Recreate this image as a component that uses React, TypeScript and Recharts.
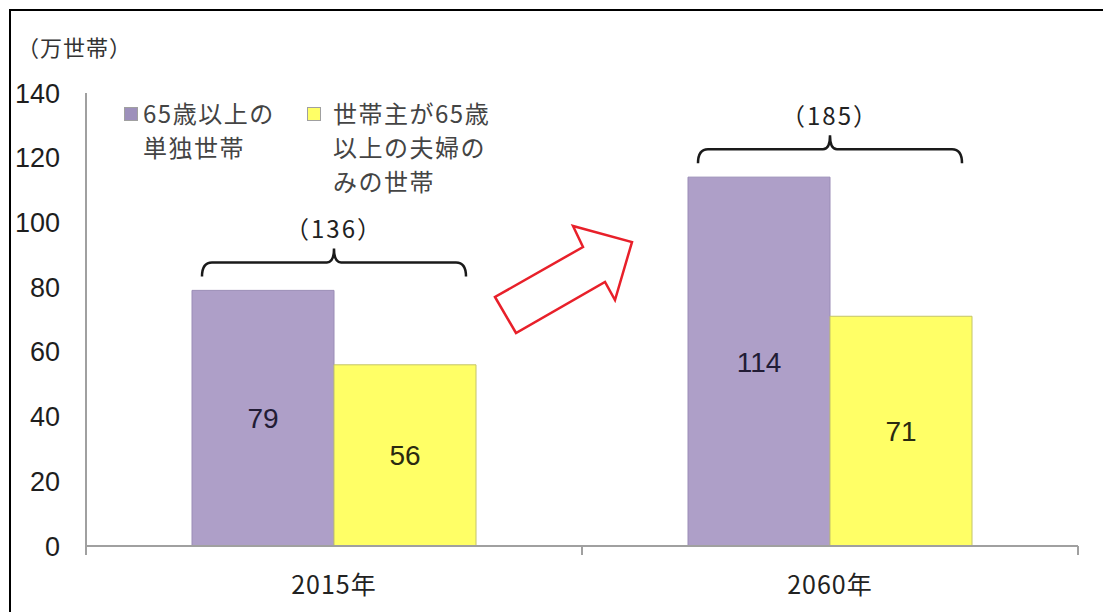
import { BarChart, Bar, XAxis, YAxis, LabelList } from 'recharts'

const years = ['2015年', '2060年']
const singleHouseholds = [79, 114]
const coupleHouseholds = [56, 71]
const totals = [136, 185]
const yTicks = [0, 20, 40, 60, 80, 100, 120, 140]
const seriesNames = ['65歳以上の単独世帯', '世帯主が65歳以上の夫婦のみの世帯']
const legendLines = [
  ['65歳以上の', '単独世帯'],
  ['世帯主が65歳', '以上の夫婦の', 'みの世帯'],
]
const unitLabel = '（万世帯）'

const data = years.map((year, i) => ({
  year,
  single: singleHouseholds[i],
  couple: coupleHouseholds[i],
  total: totals[i],
}))

const W = 1103
const H = 612
const M = { top: 93, right: 25, bottom: 0, left: 0 }
const Y_W = 86
const X_H = 66
const HALF_BAND = (W - Y_W - M.right) / years.length / 2

const PURPLE = '#ae9fc8'
const YELLOW = '#ffff66'
const AXIS = '#a0a0a0'
const JP = '"Noto Sans CJK JP", "Liberation Sans", sans-serif'
const NUM = '"Liberation Sans", Arial, sans-serif'
const X_MARGIN = 30

// category label, plus the tick marks on the band edges (Excel style)
const XTick = ({ x, y, payload }: any) => {
  const top = y - X_MARGIN
  return (
    <g>
      {[x - HALF_BAND, x + HALF_BAND].map(tx => (
        <line key={tx} x1={tx} x2={tx} y1={top} y2={top + 9} stroke={AXIS} strokeWidth={2} />
      ))}
      <text x={x} y={y} dy="0.71em" textAnchor="middle" fontSize={25} letterSpacing={1}
        fontFamily={JP} fill="#222">
        {payload.value}
      </text>
    </g>
  )
}

// brace over each pair of bars, with the pair total above it
const Bracket = (props: any) => {
  const vb = props.viewBox ?? props
  const x = props.x ?? vb.x
  const y = props.y ?? vb.y
  const w = props.width ?? vb.width
  const x1 = x + 10
  const x2 = x + 2 * w - 10
  const cx = x + w
  const by = y - 28
  const d = `M${x1},${by + 14} Q${x1},${by} ${x1 + 10},${by} L${cx - 7},${by} Q${cx},${by} ${cx},${by - 14}`
    + ` Q${cx},${by} ${cx + 7},${by} L${x2 - 10},${by} Q${x2},${by} ${x2},${by + 14}`
  return (
    <g>
      <path d={d} fill="none" stroke="#1a1a1a" strokeWidth={2.5} />
      <text x={cx} y={by - 31} textAnchor="middle" dominantBaseline="middle"
        fontSize={24} letterSpacing={2} fontFamily={JP} fill="#222">
        {`（${props.value}）`}
      </text>
    </g>
  )
}

export default function App() {
  return (
    <div style={{ position: 'relative', width: W, height: H, overflow: 'hidden', background: '#fff' }}>
      <style>{'body{margin:0}'}</style>
      <div style={{
        position: 'absolute', left: 9, top: 9, width: 1200, height: 700,
        borderTop: '2px solid #000', borderLeft: '2px solid #000',
      }} />
      <div style={{
        position: 'absolute', left: 17, top: 30, fontSize: 22, letterSpacing: 1,
        fontFamily: JP, color: '#333',
      }}>
        {unitLabel}
      </div>

      <BarChart width={W} height={H} data={data} margin={M} barGap={0} barSize={142}>
        <XAxis dataKey="year" height={X_H} tickLine={false} tickSize={0} tickMargin={X_MARGIN}
          axisLine={{ stroke: AXIS, strokeWidth: 2 }} tick={<XTick />} />
        <YAxis domain={[0, 140]} ticks={yTicks} width={Y_W}
          tickLine={false} tickSize={0} tickMargin={26}
          axisLine={{ stroke: AXIS, strokeWidth: 2 }}
          tick={{ fontSize: 27, fontFamily: NUM, fill: '#1e1e1e' }} />
        {/* mirrored copy only for the inward tick marks */}
        <YAxis yAxisId="inner" mirror domain={[0, 140]} ticks={yTicks} width={1}
          axisLine={false} tickFormatter={() => ''} tickSize={10}
          tickLine={{ stroke: AXIS, strokeWidth: 2 }} />
        <Bar dataKey="single" name={seriesNames[0]} fill={PURPLE} stroke="#9a8cb6" strokeWidth={1}
          isAnimationActive={false}>
          <LabelList dataKey="single" position="center" fontSize={28} fontFamily={NUM} fill="#221c35" />
          <LabelList dataKey="total" content={<Bracket />} />
        </Bar>
        <Bar dataKey="couple" name={seriesNames[1]} fill={YELLOW} stroke="#c4c46a" strokeWidth={1}
          isAnimationActive={false}>
          <LabelList dataKey="couple" position="center" fontSize={28} fontFamily={NUM} fill="#2a2a10" />
        </Bar>
      </BarChart>

      {/* legend */}
      {legendLines.map((lines, i) => (
        <div key={i} style={{ position: 'absolute', top: 96, left: i === 0 ? 124 : 307 }}>
          <div style={{
            position: 'absolute', left: 0, top: 11, width: 12, height: 12,
            background: i === 0 ? '#9d90bb' : YELLOW, border: '1px solid #a0a0a0',
          }} />
          <div style={{
            position: 'absolute', left: i === 0 ? 19 : 26, top: 0, whiteSpace: 'nowrap',
            fontSize: 24, lineHeight: '34px', letterSpacing: 1.5, fontFamily: JP, color: '#444',
          }}>
            {lines.map(l => <div key={l}>{l}</div>)}
          </div>
        </div>
      ))}

      {/* arrow */}
      <svg width={W} height={H} style={{ position: 'absolute', left: 0, top: 0, pointerEvents: 'none' }}>
        <polygon points="495,297 516,333 605,282 615,300 632,242 573,226 583,247"
          fill="#fff" stroke="#e8202a" strokeWidth={2.5} strokeLinejoin="miter" />
      </svg>
    </div>
  )
}
